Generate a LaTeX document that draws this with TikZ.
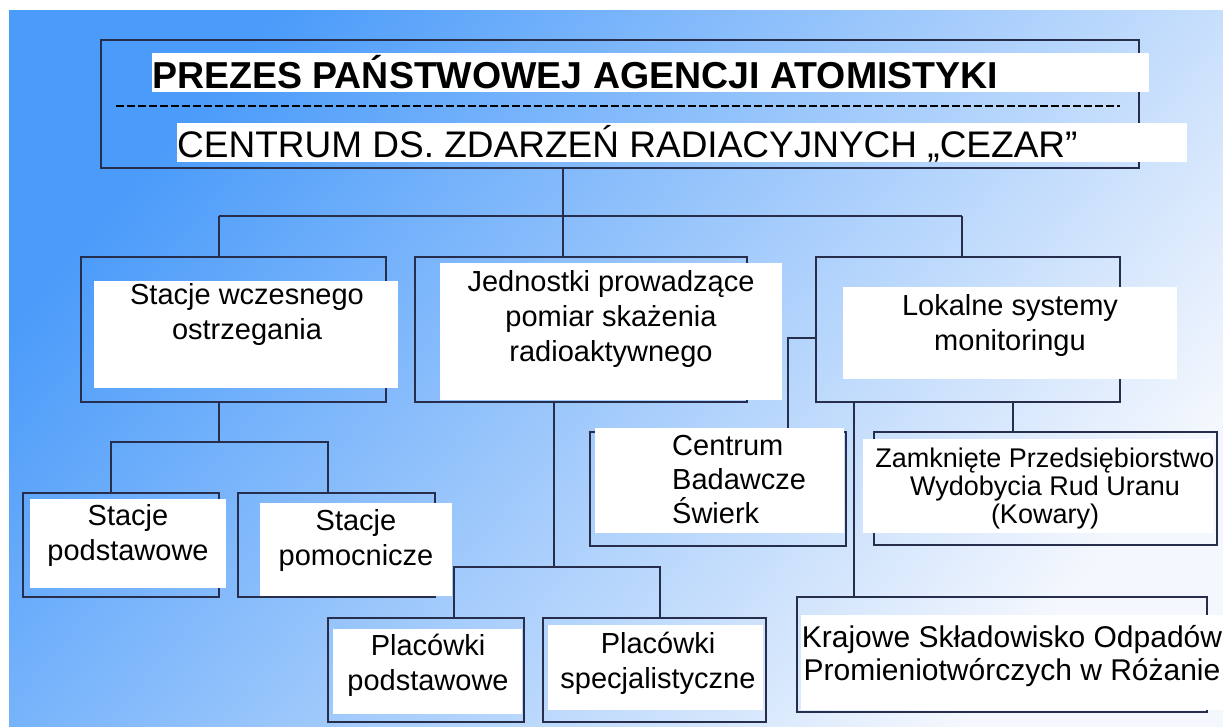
\documentclass[tikz,border=0pt]{standalone}
\usepackage{fontspec}
\setmainfont{Liberation Sans}
\usepackage{tikz}
\usetikzlibrary{positioning}
\definecolor{bgblue}{RGB}{74,155,250}
\definecolor{bgpale}{RGB}{244,247,253}
\definecolor{linecol}{RGB}{38,46,76}

\begin{document}
\begin{tikzpicture}[x=1pt, y=-1pt,
    frame/.style={draw=linecol, line width=1.5pt, inner sep=0pt},
    link/.style={draw=linecol, line width=1.5pt},
    card/.style={fill=white},
    boxtext/.style={font=\fontsize{29}{35}\selectfont, align=center, inner sep=0pt, anchor=base},
  ]
  \useasboundingbox (0,0) rectangle (1223,726);
  % background
  \shade[left color=bgblue, right color=bgpale, shading angle=50] (9,10) rectangle (1223,726);
  % frames
  \node[frame, minimum width=1038pt, minimum height=128pt] (prezes) at (620,104) {};
  \node[frame, minimum width=305pt, minimum height=145pt] (wczesne) at (233.5,329.5) {};
  \node[frame, minimum width=332pt, minimum height=145pt] (jednostki) at (581,329.5) {};
  \node[frame, minimum width=304pt, minimum height=145pt] (lokalne) at (968,329.5) {};
  \node[frame, minimum width=196pt, minimum height=104pt] (podst) at (121,545) {};
  \node[frame, minimum width=197pt, minimum height=104pt] (pomoc) at (336.5,545) {};
  \node[frame, minimum width=196pt, minimum height=104pt] (placpod) at (426,670) {};
  \node[frame, minimum width=223pt, minimum height=104pt] (placspec) at (654.5,670) {};
  \node[frame, minimum width=256pt, minimum height=114pt] (centrum) at (718,489) {};
  \node[frame, minimum width=343pt, minimum height=113pt] (zamkniete) at (1045.5,488.5) {};
  \node[frame, minimum width=410pt, minimum height=115pt] (krajowe) at (1002,654.5) {};
  % connectors
  \coordinate (bus) at (563,216);
  \coordinate (busL) at (219,216);
  \coordinate (busR) at (962,216);
  \draw[link] (prezes.south -| bus) -- (bus);
  \draw[link] (busL) -- (busR);
  \draw[link] (busL) -- (busL |- wczesne.north);
  \draw[link] (bus) -- (bus |- jednostki.north);
  \draw[link] (busR) -- (busR |- lokalne.north);
  \coordinate (w1) at (219,442);
  \coordinate (wL) at (111,442);
  \coordinate (wR) at (328,442);
  \draw[link] (w1 |- wczesne.south) -- (w1);
  \draw[link] (wL |- podst.north) -- (wL) -- (wR) -- (wR |- pomoc.north);
  \coordinate (j1) at (554,567);
  \coordinate (jL) at (454,567);
  \coordinate (jR) at (660,567);
  \draw[link] (j1 |- jednostki.south) -- (j1);
  \draw[link] (jL |- placpod.north) -- (jL) -- (jR) -- (jR |- placspec.north);
  \coordinate (l1) at (788,338);
  \coordinate (l2) at (854,0);
  \coordinate (l3) at (1013,0);
  \draw[link] (lokalne.west |- l1) -- (l1) -- (l1 |- centrum.north);
  \draw[link] (l2 |- lokalne.south) -- (l2 |- krajowe.north);
  \draw[link] (l3 |- lokalne.south) -- (l3 |- zamkniete.north);
  \draw[black, line width=2.5pt, dash pattern=on 8pt off 3pt] (116,106) -- (1120,106);
  % white cards
  \fill[card] (152,53) rectangle (1149,92);
  \fill[card] (177,123) rectangle (1187,162);
  \fill[card] (94,281) rectangle (398,388);
  \fill[card] (440,263) rectangle (782,400);
  \fill[card] (843,287) rectangle (1177,379);
  \fill[card] (30,499) rectangle (226,588);
  \fill[card] (260,503) rectangle (452,596);
  \fill[card] (333,629) rectangle (522,714);
  \fill[card] (548,625) rectangle (763,710);
  \fill[card] (595,428) rectangle (844,533);
  \fill[card] (863,439) rectangle (1213,533);
  \fill[card] (801,615) rectangle (1223,710);
  % texts
  \node[font=\bfseries\fontsize{37.5}{40}\selectfont, anchor=base west, inner sep=0pt] (prezesT) at (152,88) {PREZES PAŃSTWOWEJ AGENCJI ATOMISTYKI};
  \node[font=\fontsize{37}{40}\selectfont, anchor=base west, inner sep=0pt] (cezarT) at (177,157) {CENTRUM DS. ZDARZEŃ RADIACYJNYCH „CEZAR”};
  \node[boxtext] (wczesneT) at (247,339) {Stacje wczesnego\\ostrzegania};
  \node[boxtext] (jednostkiT) at (611,361) {Jednostki prowadzące\\pomiar skażenia\\radioaktywnego};
  \node[boxtext] (lokalneT) at (1010,350) {Lokalne systemy\\monitoringu};
  \node[boxtext] (podstT) at (128,560) {Stacje\\podstawowe};
  \node[boxtext] (pomocT) at (356,565) {Stacje\\pomocnicze};
  \node[boxtext] (placpodT) at (428,690) {Placówki\\podstawowe};
  \node[boxtext] (placspecT) at (658,688) {Placówki\\specjalistyczne};
  \node[boxtext, font=\fontsize{29}{34}\selectfont, align=left, anchor=base west] (centrumT) at (672,523) {Centrum\\Badawcze\\Świerk};
  \node[boxtext, font=\fontsize{27}{28}\selectfont] (zamknieteT) at (1045,523) {Zamknięte Przedsiębiorstwo\\Wydobycia Rud Uranu\\(Kowary)};
  \node[boxtext, font=\fontsize{30}{33}\selectfont] (krajoweT) at (1012,680) {Krajowe Składowisko Odpadów\\Promieniotwórczych w Różanie};
\end{tikzpicture}
\end{document}
